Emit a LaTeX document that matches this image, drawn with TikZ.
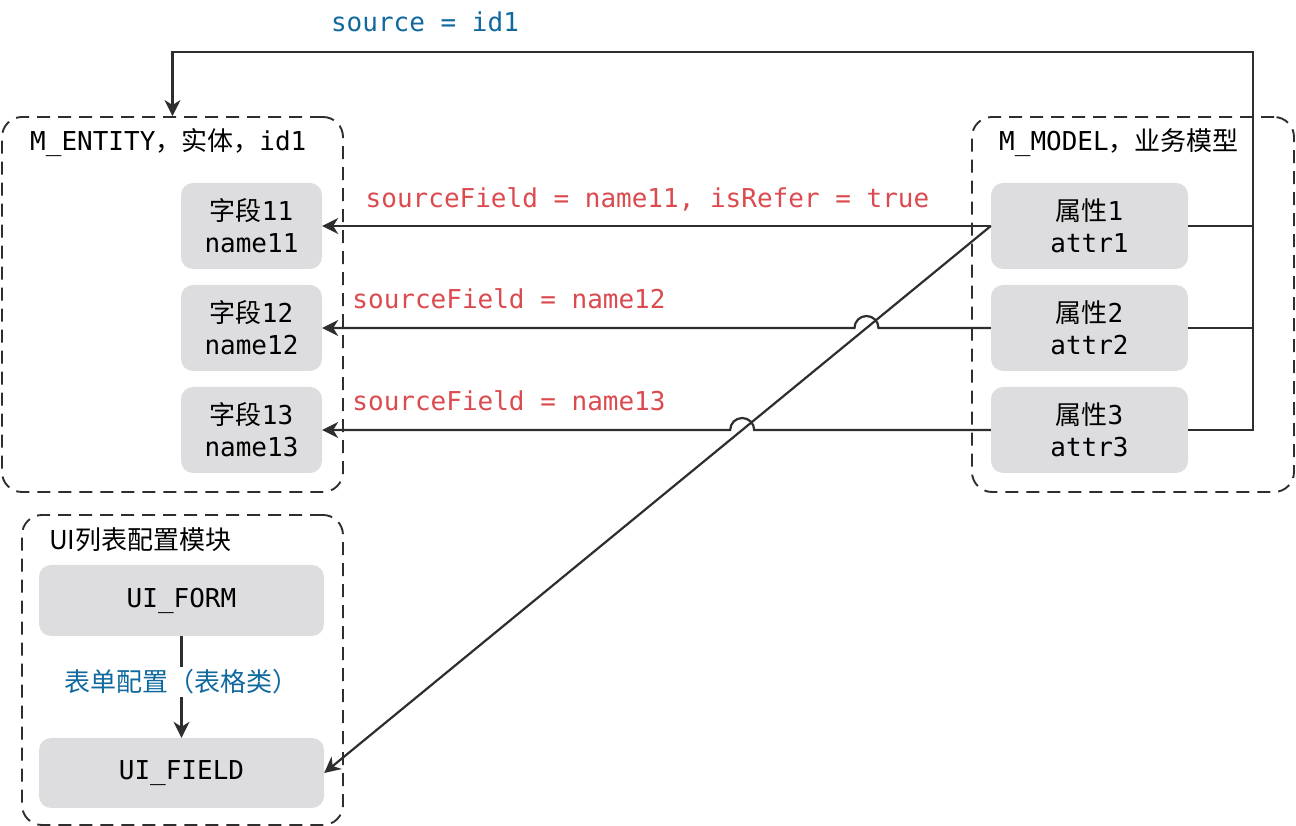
\documentclass[tikz,border=0pt]{standalone}
\usepackage{fontspec}
\setmainfont{DejaVu Sans Mono}
\setmonofont{DejaVu Sans Mono}
\newfontfamily\cjk{Noto Sans CJK SC}
\usetikzlibrary{arrows.meta,intersections,calc}
\definecolor{linec}{HTML}{2E2E2E}
\definecolor{boxfill}{HTML}{DDDDDF}
\definecolor{redtxt}{HTML}{DB4A4E}
\definecolor{bluetxt}{HTML}{10699E}
\tikzset{
  container/.style={draw=linec, line width=1.9pt, dash pattern=on 13pt off 8pt, rounded corners=20pt, inner sep=0pt},
  field/.style={fill=boxfill, rounded corners=12pt, inner sep=0pt, align=center, font=\fontsize{26}{32}\selectfont, text=black},
  conn/.style={draw=linec, line width=2.2pt},
  arr/.style={conn, -{Stealth[length=16pt,width=16pt,inset=5pt]}},
  ttl/.style={anchor=west, inner sep=0pt, font=\fontsize{26}{30}\selectfont},
  redlbl/.style={text=redtxt, inner sep=0pt, font=\fontsize{26}{30}\selectfont},
  bluelbl/.style={text=bluetxt, inner sep=0pt, font=\fontsize{26}{30}\selectfont},
}
\begin{document}
\begin{tikzpicture}[x=1pt,y=1pt]
\useasboundingbox (0,0) rectangle (1296,826);
% containers
\node[container, minimum width=341pt, minimum height=375pt] (ent) at (172.5,521.5) {};
\node[container, minimum width=322pt, minimum height=375pt] (mdl) at (1133,521.5) {};
\node[container, minimum width=321pt, minimum height=310pt] (ui) at (182.5,156) {};
% titles
\node[ttl] (entT) at (30,683) {M\_ENTITY{\cjk ，实体，}id1};
\node[ttl] (mdlT) at (999,683) {M\_MODEL{\cjk ，业务模型}};
\node[ttl] (uiT) at (49,286) {\cjk UI列表配置模块};
% fields
\node[field, minimum width=141pt, minimum height=86pt] (f11) at (251.5,600) {{\cjk 字段}11\\name11};
\node[field, minimum width=141pt, minimum height=86pt] (f12) at (251.5,498) {{\cjk 字段}12\\name12};
\node[field, minimum width=141pt, minimum height=86pt] (f13) at (251.5,396) {{\cjk 字段}13\\name13};
\node[field, minimum width=197pt, minimum height=86pt] (a1) at (1089.5,600) {{\cjk 属性}1\\attr1};
\node[field, minimum width=197pt, minimum height=86pt] (a2) at (1089.5,498) {{\cjk 属性}2\\attr2};
\node[field, minimum width=197pt, minimum height=86pt] (a3) at (1089.5,396) {{\cjk 属性}3\\attr3};
\node[field, minimum width=285pt, minimum height=71pt] (uiform) at (181.5,225.5) {UI\_FORM};
\node[field, minimum width=285pt, minimum height=70pt] (uifield) at (181.5,53) {UI\_FIELD};
% top connector
\coordinate (tr) at (1253,774);
\draw[arr] (a1.east) -| (tr) -| (ent.north);
\draw[conn] (a2.east) -- (a2.east -| tr);
\draw[conn] (a3.east) -- (a3.east -| tr) -- (tr);
\node[bluelbl] (srcL) at (425,804) {source = id1};
% diagonal
\draw[arr, name path=diag] (a1.west) -- (uifield.east);
% horizontal connectors
\draw[arr] (a1.west) -- (f11.east);
\path[name path=h2] (a2.west) -- (f12.east);
\path[name path=h3] (a3.west) -- (f13.east);
\path[name intersections={of=diag and h2, by=j2}];
\path[name intersections={of=diag and h3, by=j3}];
\draw[arr] (a2.west) -- ([xshift=12pt]a2.west -| j2) arc[start angle=0, end angle=180, radius=12pt] -- (f12.east);
\draw[arr] (a3.west) -- ([xshift=12pt]a3.west -| j3) arc[start angle=0, end angle=180, radius=12pt] -- (f13.east);
\node[redlbl] (l1) at (647.5,627) {sourceField = name11, isRefer = true};
\node[redlbl] (l2) at (509,527) {sourceField = name12};
\node[redlbl] (l3) at (509,425) {sourceField = name13};
% ui arrow
\draw[arr] (uiform.south) -- node[pos=0.45, fill=white, bluelbl, inner sep=3pt] (cfgL) {\cjk 表单配置（表格类）} (uifield.north);
\end{tikzpicture}
\end{document}
